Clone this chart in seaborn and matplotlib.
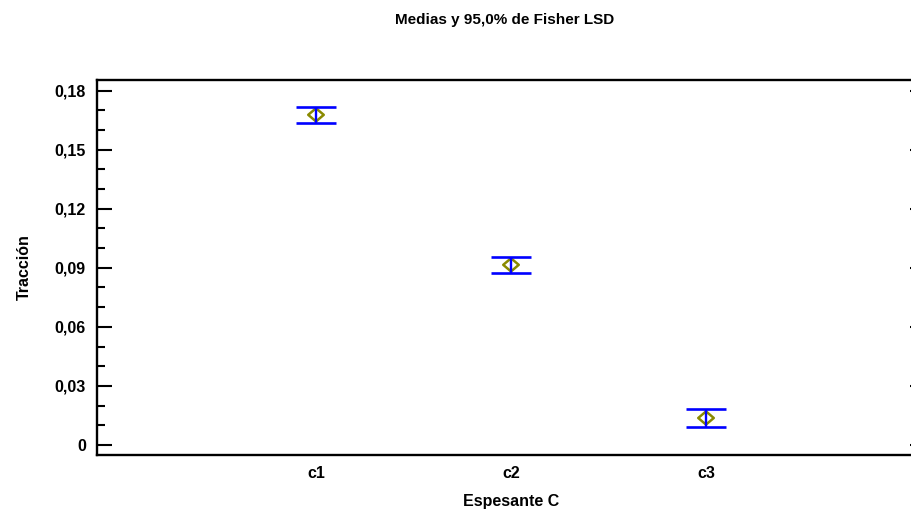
import matplotlib
matplotlib.use("Agg")
import matplotlib.pyplot as plt
from matplotlib.ticker import MultipleLocator, FuncFormatter
from matplotlib.path import Path
import seaborn as sns
import pandas as pd

# Group means and 95% Fisher LSD intervals
categories = ["c1", "c2", "c3"]
means = [0.1677, 0.0915, 0.0137]
lower = [0.1635, 0.0872, 0.0093]
upper = [0.1719, 0.0957, 0.0181]

title = "Medias y 95,0% de Fisher LSD"
xlabel = "Espesante C"
ylabel = "Tracción"

sns.set_style("white")
plt.rcParams["font.family"] = ["Liberation Sans", "DejaVu Sans"]
plt.rcParams["font.weight"] = "bold"
plt.rcParams["text.color"] = "black"
plt.rcParams["axes.labelcolor"] = "black"
plt.rcParams["xtick.color"] = "black"
plt.rcParams["ytick.color"] = "black"

df = pd.DataFrame({"grupo": categories, "media": means, "lo": lower, "hi": upper})
df["pos"] = range(len(df))

# a diamond a little wider than it is tall
diamond = Path([(-1.0, 0.0), (0.0, 0.85), (1.0, 0.0), (0.0, -0.85), (-1.0, 0.0)],
               [Path.MOVETO, Path.LINETO, Path.LINETO, Path.LINETO, Path.CLOSEPOLY])

fig = plt.figure(figsize=(9.12, 5.13), dpi=100)
ax = fig.add_axes([97 / 912, 1 - 455 / 513, (925 - 97) / 912, (455 - 80) / 513])

# hollow diamonds at the means
sns.scatterplot(data=df, x="pos", y="media", marker=diamond, s=125,
                facecolors="none", edgecolor="#8a8a00", linewidth=1.8,
                ax=ax, zorder=2, legend=False)

# interval bars with caps
err = [df["media"] - df["lo"], df["hi"] - df["media"]]
ax.errorbar(df["pos"], df["media"], yerr=err, fmt="none", ecolor="#0000ff",
            elinewidth=1.7, capsize=14.5, capthick=1.9, zorder=3)

ax.set_xlim(-1.123, 3.123)
ax.set_ylim(-0.0051, 0.1854)
ax.set_xticks(df["pos"])
ax.set_xticklabels(categories)
ax.yaxis.set_major_locator(MultipleLocator(0.03))
ax.yaxis.set_minor_locator(MultipleLocator(0.01))
ax.yaxis.set_major_formatter(FuncFormatter(
    lambda v, p: "0" if abs(v) < 1e-9 else f"{v:.2f}".replace(".", ",")))

for side in ["left", "bottom", "top", "right"]:
    ax.spines[side].set_linewidth(1.7)
    ax.spines[side].set_color("black")

ax.tick_params(axis="y", which="major", direction="in", length=11, width=1.5,
               left=True, right=True, labelsize=11.5, pad=8)
ax.tick_params(axis="y", which="minor", direction="in", length=6, width=1.5,
               left=True, right=False)
ax.tick_params(axis="x", which="both", length=0, labelsize=11.5, pad=8,
               bottom=True, top=False)
for lab in ax.get_xticklabels() + ax.get_yticklabels():
    lab.set_fontweight("bold")

ax.set_xlabel(xlabel, fontsize=11.5, fontweight="bold", labelpad=9)
ax.set_ylabel(ylabel, fontsize=11.5, fontweight="bold", labelpad=16)
fig.text(505 / 912, 1 - 20 / 513, title, ha="center", va="center",
         fontsize=11, fontweight="bold")

fig.savefig("out.png", dpi=100)
